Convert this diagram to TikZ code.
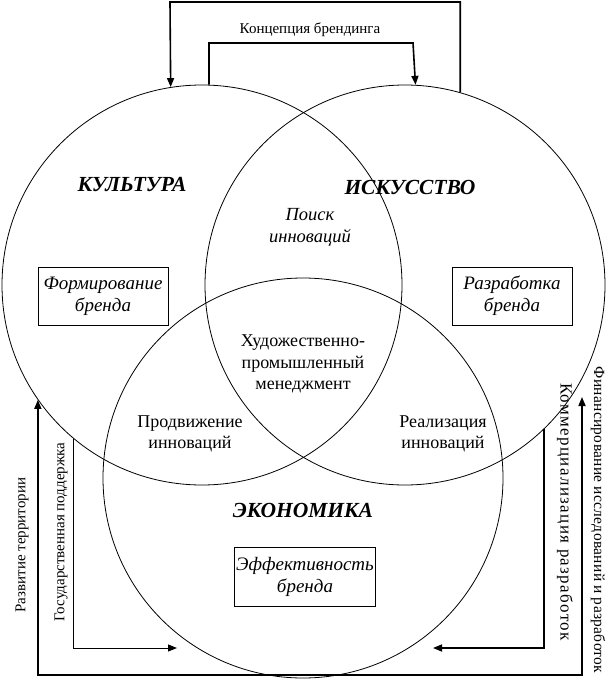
\documentclass[tikz,border=0pt]{standalone}
\usepackage{fontspec}
\setmainfont{Liberation Serif}
\usetikzlibrary{arrows.meta}
\tikzset{
  ring/.style={draw, circle, minimum size=400pt, inner sep=0pt, line width=0.8pt},
  conn/.style={line width=1.6pt, -{Triangle[length=9pt,width=7pt]}},
  thinconn/.style={line width=1.0pt, -{Triangle[length=9pt,width=7pt]}},
  title/.style={font=\fontsize{21.5}{24}\selectfont\bfseries\itshape},
  body/.style={font=\fontsize{18}{21.5}\selectfont, align=center},
  ibody/.style={font=\fontsize{18.5}{22}\selectfont\itshape, align=center},
  boxed/.style={draw, line width=0.8pt, minimum width=130pt, minimum height=58pt, inner sep=2pt, align=center, font=\fontsize{19}{22}\selectfont\itshape},
  side/.style={font=\fontsize{15}{18}\selectfont}
}
\begin{document}
\begin{tikzpicture}[x=1pt,y=-1pt]
\useasboundingbox (0,0) rectangle (607,682);
% circles
\node[ring] (cul) at (202,285) {};
\node[ring] (art) at (405,285) {};
\node[ring] (eco) at (303,478) {};
% titles
\node[title] (tcul) at (132,185) {КУЛЬТУРА};
\node[title] (tart) at (410,187) {ИСКУССТВО};
\node[title] (teco) at (303,510) {ЭКОНОМИКА};
% inner texts
\node[ibody] (poisk) at (310,227) {Поиск\\инноваций};
\node[body] (hpm) at (303,364) {Художественно-\\промышленный\\менеджмент};
\node[body] (prod) at (190,434) {Продвижение\\инноваций};
\node[body] (real) at (443,434) {Реализация\\инноваций};
% boxes
\node[boxed] (fb) at (103,296) {Формирование\\бренда};
\node[boxed, minimum width=120pt] (rb) at (512,296) {Разработка\\бренда};
\node[boxed, minimum width=140pt, minimum height=59pt] (eb) at (305,577) {Эффективность\\бренда};
% top connectors
\node[font=\fontsize{15}{18}\selectfont] (konc) at (310,30) {Концепция брендинга};
\coordinate (otl) at (170,2);
\coordinate (itr) at (413,43);
\draw[conn] (art.74) |- (otl) -- (cul.99);
\draw[conn] (cul.88.6) |- (itr) -- (art.87.7);
% bottom connectors
\coordinate (gtip) at (177,648);
\coordinate (brc) at (582,675);
\coordinate (ftip) at (582,397);
\coordinate (ktip) at (433,648);
\draw[thinconn] (cul.230.5) |- (gtip);
\draw[conn] (art.314) |- (ktip);
\draw[line width=1.6pt, {Triangle[length=9pt,width=7pt]}-{Triangle[length=9pt,width=7pt]}] (cul.215.4) |- (brc) -- (ftip);
% side labels
\node[side, rotate=90] (razv) at (22,545) {Развитие территории};
\node[side, rotate=90] (gos) at (61,532) {Государственная поддержка};
\node[side, rotate=-90, font=\fontsize{17}{20}\selectfont\addfontfeature{LetterSpace=8}] (komm) at (565,512) {Коммерциализация разработок};
\node[side, rotate=-90, font=\fontsize{15.5}{18}\selectfont\addfontfeature{LetterSpace=2}, inner sep=1pt] (fin) at (598,520) {Финансирование исследований и разработок};
\end{tikzpicture}
\end{document}
